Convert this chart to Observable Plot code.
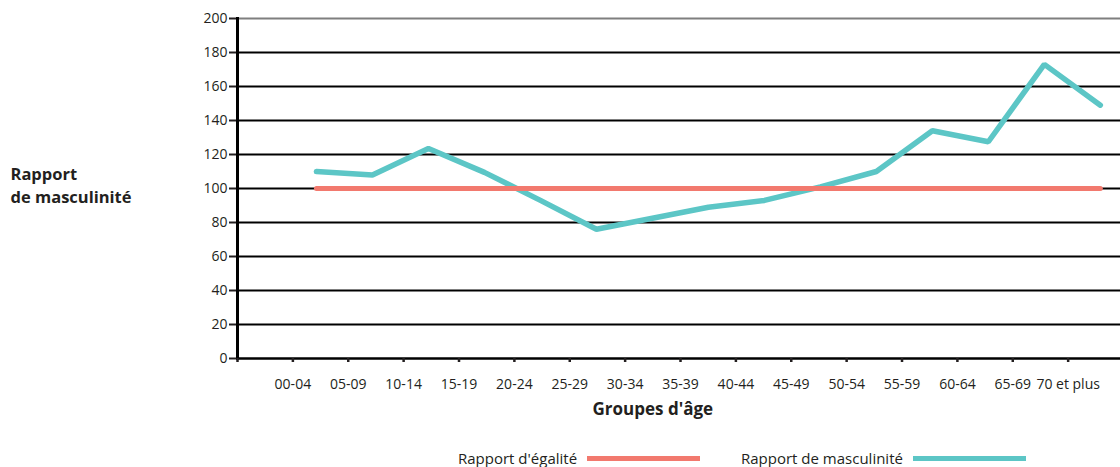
<!DOCTYPE html>
<html>
<head>
<meta charset="utf-8">
<script src="https://cdn.jsdelivr.net/npm/d3@7"></script>
<script src="https://cdn.jsdelivr.net/npm/@observablehq/plot@0.6"></script>
<style>
  body { margin: 0; background: #fff; font-family: "Open Sans", sans-serif; color: #231f20; }
  #chart svg { display: block; }
  #chart g[aria-label="age-labels"] text { letter-spacing: 0.4px; word-spacing: 3px; }
  #legend { position: relative; width: 1120px; height: 27px; font-size: 15px; }
  .item { position: absolute; top: 9px; display: flex; align-items: center; gap: 10px; line-height: 18px; white-space: nowrap; }
  .swatch { display: inline-block; width: 113px; height: 5px; margin-top: 1px; }
</style>
</head>
<body>
<div id="chart"></div>
<div id="legend"></div>
<script>
// ---- Data ----
const ageGroups = ["00-04", "05-09", "10-14", "15-19", "20-24", "25-29", "30-34", "35-39",
                   "40-44", "45-49", "50-54", "55-59", "60-64", "65-69", "70 et plus"];
const masculinity = [110, 108, 123.5, 109.5, 93, 76, 82.5, 89, 93, 101, 110, 134, 127.5, 173, 149];
const equality = [100, 100, 100, 100, 100, 100, 100, 100, 100, 100, 100, 100, 100, 100, 100];
const yTicks = [0, 20, 40, 60, 80, 100, 120, 140, 160, 180, 200];
const seriesNames = ["Rapport d'égalité", "Rapport de masculinité"];
const seriesColors = ["#F2796E", "#5CC6C6"];
const xTitle = "Groupes d'âge";
const yTitle = "Rapport\nde masculinité";

// ---- Layout (reference quirk: age labels sit on ticks offset from the data points) ----
const xDomain = [-1.41, 14.36];
const tickStart = -1.41, tickStep = 0.989;
const tickPositions = d3.range(ageGroups.length + 1).map(j => tickStart + tickStep * j);
const labelPositions = ageGroups.map((d, j) => tickPositions[j + 1]);

const rows = ageGroups.map((g, i) => ({i, group: g, masc: masculinity[i], eq: equality[i]}));
const font = "Open Sans, sans-serif";

const chart = Plot.plot({
  width: 1120,
  height: 440,
  marginLeft: 237,
  marginRight: 0,
  marginTop: 18,
  marginBottom: 82,
  style: {fontFamily: font, color: "#231f20", background: "#fff"},
  x: {domain: xDomain, axis: null},
  y: {domain: [0, 200], axis: null},
  marks: [
    // gridlines
    Plot.ruleY(yTicks.filter(d => d > 0), {
      y: d => d, stroke: d => d === 200 ? "#7f7f7f" : "#000", strokeWidth: 2
    }),
    // bottom axis line
    Plot.ruleY([0], {stroke: "#000", strokeWidth: 2.5}),
    // y axis
    Plot.axisY({
      ticks: yTicks, tickSize: 8, tickPadding: 2, strokeWidth: 2,
      fontSize: 14, tickFormat: d => String(d), label: null, fill: "#231f20"
    }),
    Plot.frame({anchor: "left", stroke: "#000", strokeWidth: 3}),
    // x ticks
    Plot.axisX({
      ticks: tickPositions, tickSize: 4, strokeWidth: 2.5,
      tickFormat: () => "", label: null
    }),
    // x tick labels
    Plot.text(ageGroups, {
      x: (d, j) => labelPositions[j], y: 0, dy: 26,
      fontSize: 14, fill: "#231f20", ariaLabel: "age-labels"
    }),
    // x title
    Plot.text([xTitle], {
      x: () => tickStart + tickStep * ageGroups.length / 2, y: 0, dy: 51,
      fontSize: 17, fontWeight: "bold", fill: "#231f20"
    }),
    // y title
    Plot.text([yTitle], {
      x: () => xDomain[0], y: () => 100, dx: -227, dy: -4,
      textAnchor: "start", fontSize: 16.5, fontWeight: "bold", lineHeight: 1.38, fill: "#231f20"
    }),
    // series
    Plot.line(rows, {x: "i", y: "masc", stroke: seriesColors[1], strokeWidth: 5.5, strokeLinejoin: "miter"}),
    Plot.line(rows, {x: "i", y: "eq", stroke: seriesColors[0], strokeWidth: 5})
  ]
});
document.getElementById("chart").appendChild(chart);

// ---- Legend ----
const legendStarts = [458, 741];
const legend = document.getElementById("legend");
seriesNames.forEach((name, k) => {
  const item = document.createElement("div");
  item.className = "item";
  item.style.left = legendStarts[k] + "px";
  const t = document.createElement("span");
  t.textContent = name;
  const s = document.createElement("span");
  s.className = "swatch";
  s.style.background = seriesColors[k];
  item.appendChild(t);
  item.appendChild(s);
  legend.appendChild(item);
});
</script>
</body>
</html>
